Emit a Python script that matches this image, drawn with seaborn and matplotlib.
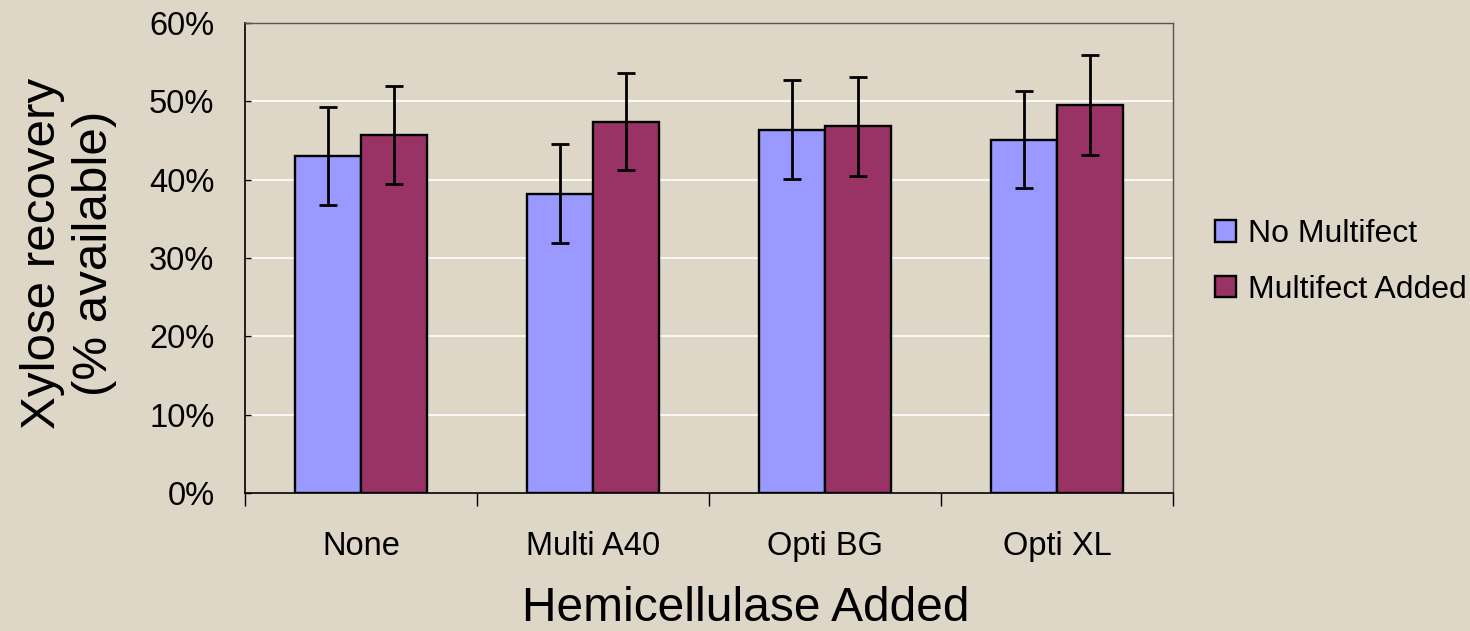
import numpy as np
import pandas as pd
import matplotlib
matplotlib.use('Agg')
import matplotlib.pyplot as plt
from matplotlib.ticker import PercentFormatter, FixedLocator
import seaborn as sns

# values (% of available xylose)
enzymes = ['None', 'Multi A40', 'Opti BG', 'Opti XL']
series = ['No Multifect', 'Multifect Added']
no_multifect = [43.0, 38.2, 46.4, 45.1]
multifect_added = [45.7, 47.4, 46.8, 49.5]
err_no = [6.3, 6.3, 6.35, 6.2]
err_added = [6.3, 6.2, 6.35, 6.4]

bg = '#DED6C7'
colors = ['#9999FF', '#993366']

sns.set_style('white')
plt.rcParams['font.family'] = ['Liberation Sans', 'DejaVu Sans']
plt.rcParams['text.color'] = 'black'
plt.rcParams['axes.labelcolor'] = 'black'
plt.rcParams['xtick.color'] = 'black'
plt.rcParams['ytick.color'] = 'black'

df = pd.DataFrame({
    'Enzyme': enzymes * 2,
    'Series': [series[0]] * 4 + [series[1]] * 4,
    'Recovery': no_multifect + multifect_added,
})

fig = plt.figure(figsize=(14.7, 6.31), dpi=100, facecolor=bg)
ax = fig.add_axes([0.1667, 0.2187, 0.6313, 0.7449])
ax.set_facecolor(bg)

sns.barplot(data=df, x='Enzyme', y='Recovery', hue='Series', order=enzymes,
            hue_order=series, palette=colors, width=0.57, errorbar=None,
            edgecolor='black', linewidth=1.7, saturation=1, ax=ax, zorder=2)

# error bars on top of each bar
for cont, errs in zip(ax.containers, [err_no, err_added]):
    xs = [p.get_x() + p.get_width() / 2 for p in cont.patches]
    hs = [p.get_height() for p in cont.patches]
    ax.errorbar(xs, hs, yerr=errs, fmt='none', ecolor='black', elinewidth=2,
                capsize=6.5, capthick=2, zorder=3)

ax.set_ylim(0, 60)
ax.set_xlim(-0.5, 3.5)
ax.set_yticks(np.arange(0, 61, 10))
ax.yaxis.set_major_formatter(PercentFormatter(100, decimals=0))
ax.yaxis.grid(True, color='white', linewidth=1.2, zorder=0)
ax.set_axisbelow(True)

ax.tick_params(axis='y', direction='in', length=4, width=1,
               labelsize=23.5, pad=22, left=True)
ax.tick_params(axis='x', which='major', length=0, labelsize=23.5, pad=27)
ax.xaxis.set_minor_locator(FixedLocator([-0.5, 0.5, 1.5, 2.5, 3.5]))
ax.tick_params(axis='x', which='minor', direction='out', length=9, width=1,
               bottom=True)

for side in ['left', 'bottom']:
    ax.spines[side].set_color('black')
    ax.spines[side].set_linewidth(1.2)
for side in ['top', 'right']:
    ax.spines[side].set_color('#555555')
    ax.spines[side].set_linewidth(1)

ax.set_xlabel('Hemicellulase Added', fontsize=34.5)
ax.xaxis.set_label_coords(0.54, -0.197)
ax.set_ylabel('Xylose recovery\n(% available)', fontsize=35.5, linespacing=1.2)
ax.yaxis.set_label_coords(-0.138, 0.51)

handles, labels = ax.get_legend_handles_labels()
for h in handles:
    h.set_edgecolor('black')
    h.set_linewidth(1.7)
ax.legend(handles, labels, loc='center left', bbox_to_anchor=(0.8265, 0.585),
          bbox_transform=fig.transFigure, frameon=False, fontsize=23,
          handlelength=0.65, handleheight=0.65, handletextpad=0.4,
          labelspacing=0.8, borderpad=0, borderaxespad=0)

fig.savefig('out.png', dpi=100, facecolor=bg)
